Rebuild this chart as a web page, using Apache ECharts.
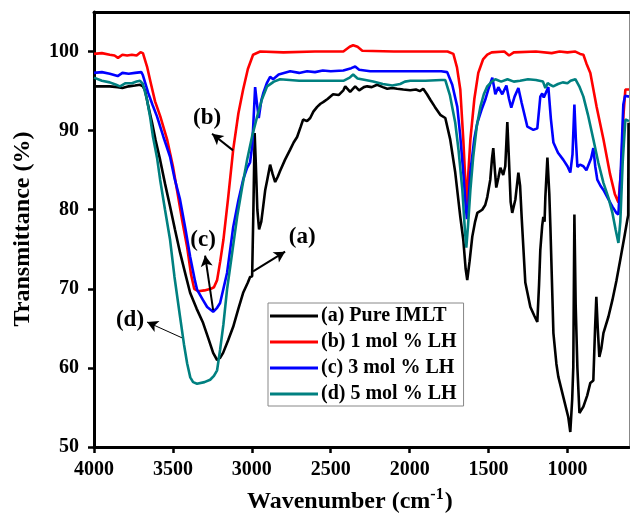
<!DOCTYPE html>
<html>
<head>
<meta charset="utf-8">
<script src="https://cdn.jsdelivr.net/npm/echarts@6/dist/echarts.min.js"></script>
<style>
  html, body { margin: 0; padding: 0; background: #fff; }
  #chart { width: 630px; height: 520px; }
</style>
</head>
<body>
<div id="chart"></div>
<script>
// FTIR spectra: transmittance (%) vs wavenumber (cm^-1)
const seriesNames = ['(a) Pure IMLT', '(b) 1 mol % LH', '(c) 3 mol % LH', '(d) 5 mol % LH'];
const seriesColors = ['#000000', '#ff0000', '#0000ff', '#008080'];

const xTicks = [4000, 3500, 3000, 2500, 2000, 1500, 1000];
const yTicks = [50, 60, 70, 80, 90, 100];

const pureIMLT = [
  [4000, 95.6], [3950, 95.6], [3900, 95.6], [3850, 95.5], [3820, 95.4], [3780, 95.6], [3740, 95.7],
  [3708, 95.8], [3690, 95.6], [3677, 95.1], [3655, 93.0], [3632, 91.0], [3610, 88.8], [3581, 86.3],
  [3550, 83.3], [3518, 80.4], [3487, 77.5], [3455, 74.6], [3420, 71.8], [3391, 69.5], [3350, 67.5],
  [3309, 65.7], [3275, 63.7], [3245, 61.9], [3220, 61.0], [3200, 61.3], [3182, 61.9], [3150, 63.5],
  [3118, 65.2], [3085, 67.5], [3055, 69.5], [3025, 70.8], [3011, 71.5], [2998, 71.6], [2990, 80.0],
  [2982, 89.7], [2975, 86.0], [2965, 80.0], [2954, 77.5], [2940, 78.5], [2928, 80.4], [2915, 82.5],
  [2903, 83.7], [2884, 85.7], [2868, 84.5], [2852, 83.5], [2835, 84.2], [2821, 84.9], [2790, 86.3],
  [2757, 87.6], [2735, 88.5], [2713, 89.2], [2690, 90.5], [2675, 91.4], [2650, 91.2], [2630, 91.6],
  [2610, 92.4], [2586, 93.0], [2565, 93.4], [2548, 93.6], [2520, 94.0], [2485, 94.6], [2450, 94.5],
  [2420, 95.1], [2408, 95.6], [2377, 94.9], [2345, 95.6], [2320, 95.1], [2290, 95.5], [2269, 95.6],
  [2240, 95.5], [2206, 95.8], [2170, 95.5], [2142, 95.3], [2110, 95.4], [2079, 95.3], [2040, 95.2],
  [1996, 95.1], [1960, 95.2], [1935, 95.0], [1914, 95.3], [1890, 94.6], [1869, 93.9], [1840, 93.0],
  [1806, 92.0], [1774, 91.6], [1743, 88.9], [1711, 84.7], [1679, 79.1], [1660, 76.2], [1645, 72.5],
  [1635, 71.1], [1620, 73.5], [1603, 76.6], [1585, 78.5], [1571, 79.6], [1540, 80.0], [1521, 80.6],
  [1508, 81.6], [1489, 83.8], [1478, 86.5], [1470, 87.8], [1460, 85.0], [1451, 82.8], [1438, 84.0],
  [1425, 85.3], [1407, 84.4], [1394, 85.5], [1387, 88.5], [1381, 91.1], [1370, 86.0], [1360, 81.0],
  [1350, 79.6], [1330, 81.3], [1311, 84.7], [1300, 83.0], [1290, 79.0], [1267, 70.8], [1235, 67.7],
  [1210, 66.6], [1191, 65.8], [1180, 70.5], [1172, 74.9], [1160, 78.0], [1153, 79.1], [1145, 78.5],
  [1140, 81.6], [1127, 86.6], [1115, 82.0], [1108, 77.8], [1089, 64.4], [1070, 60.5], [1058, 58.9],
  [1026, 56.3], [995, 53.8], [982, 51.9], [970, 56.0], [963, 60.1], [956, 79.4], [948, 68.0],
  [937, 60.0], [924, 54.3], [912, 54.2], [899, 55.1], [875, 56.5], [855, 58.1], [836, 58.4],
  [825, 65.0], [817, 69.0], [808, 65.0], [798, 61.4], [785, 62.5], [772, 64.4], [740, 66.5],
  [715, 68.6], [690, 71.0], [665, 73.7], [640, 76.5], [620, 78.8], [615, 79.3], [613, 91.0], [610, 91.0]
];

const lh1 = [
  [4000, 99.7], [3950, 99.8], [3900, 99.6], [3870, 99.5], [3848, 99.2], [3820, 99.6], [3790, 99.5],
  [3760, 99.6], [3730, 99.5], [3705, 99.9], [3690, 99.8], [3664, 98.1], [3640, 96.0], [3613, 93.7],
  [3580, 91.8], [3537, 88.9], [3500, 85.5], [3474, 82.5], [3440, 78.5], [3410, 75.3], [3385, 71.8],
  [3365, 70.0], [3340, 69.7], [3300, 69.8], [3260, 70.0], [3240, 70.2], [3220, 71.1], [3200, 73.5],
  [3180, 76.2], [3150, 81.5], [3118, 87.6], [3085, 92.2], [3055, 95.2], [3025, 97.8], [2992, 99.6],
  [2947, 100.0], [2800, 99.9], [2600, 100.0], [2420, 100.0], [2380, 100.6], [2358, 100.8], [2330, 100.6],
  [2300, 100.1], [2100, 100.0], [1900, 100.0], [1760, 100.0], [1723, 99.7], [1700, 98.0], [1679, 95.2],
  [1660, 88.9], [1648, 84.0], [1641, 80.4], [1630, 84.0], [1615, 88.9], [1590, 94.0], [1565, 97.3],
  [1535, 99.0], [1508, 99.6], [1480, 99.9], [1400, 100.0], [1370, 99.5], [1340, 99.9], [1200, 100.0],
  [1100, 99.8], [1050, 100.0], [1000, 99.9], [950, 100.0], [920, 99.7], [899, 99.6], [880, 98.5],
  [855, 97.3], [815, 93.0], [772, 88.9], [730, 84.5], [700, 82.0], [677, 80.9], [660, 85.0],
  [645, 92.0], [633, 95.2], [610, 95.2]
];

const lh3 = [
  [4000, 97.3], [3950, 97.4], [3900, 97.2], [3850, 96.9], [3820, 97.3], [3780, 97.2], [3740, 97.3],
  [3700, 97.4], [3690, 97.0], [3657, 94.8], [3630, 93.3], [3601, 91.8], [3560, 89.2], [3518, 86.7],
  [3490, 84.0], [3455, 81.3], [3420, 77.5], [3391, 74.1], [3360, 71.0], [3347, 69.9], [3310, 68.6],
  [3283, 67.7], [3245, 67.1], [3220, 67.6], [3201, 68.2], [3180, 70.0], [3157, 72.0], [3118, 77.8],
  [3085, 81.2], [3055, 83.8], [3030, 85.3], [3011, 86.0], [2998, 88.0], [2990, 91.0], [2979, 95.5],
  [2968, 93.5], [2956, 91.6], [2940, 93.8], [2928, 94.7], [2905, 96.0], [2884, 96.8], [2865, 96.5],
  [2830, 97.1], [2757, 97.5], [2700, 97.3], [2650, 97.5], [2600, 97.4], [2550, 97.6], [2500, 97.5],
  [2420, 97.6], [2370, 97.9], [2345, 98.1], [2320, 97.7], [2250, 97.5], [2100, 97.5], [1900, 97.5],
  [1800, 97.5], [1762, 97.4], [1730, 95.8], [1698, 93.0], [1680, 89.5], [1660, 84.7], [1645, 80.5],
  [1637, 78.8], [1628, 80.5], [1616, 84.7], [1590, 89.0], [1571, 91.0], [1545, 92.6], [1521, 93.9],
  [1500, 95.3], [1476, 96.7], [1465, 95.5], [1457, 94.6], [1438, 95.5], [1413, 94.6], [1387, 95.7],
  [1370, 94.0], [1356, 92.9], [1335, 94.3], [1311, 95.4], [1290, 93.5], [1254, 90.5], [1216, 90.1],
  [1191, 90.3], [1178, 93.0], [1172, 94.3], [1160, 94.7], [1150, 94.2], [1140, 94.1], [1121, 95.5],
  [1105, 91.5], [1089, 88.5], [1060, 87.2], [1026, 86.3], [1000, 85.5], [982, 84.7], [968, 87.0],
  [956, 93.3], [947, 89.0], [937, 85.4], [920, 85.7], [899, 85.5], [880, 85.0], [868, 85.2],
  [850, 86.5], [836, 87.8], [824, 85.5], [811, 83.8], [790, 83.0], [772, 82.5], [740, 81.3],
  [715, 80.4], [690, 79.6], [677, 79.4], [662, 85.0], [646, 93.3], [635, 94.4], [610, 94.3]
];

const lh5 = [
  [4000, 96.7], [3950, 96.3], [3900, 96.1], [3860, 95.8], [3835, 95.6], [3800, 96.0], [3760, 96.0],
  [3730, 96.2], [3708, 96.3], [3690, 95.9], [3664, 93.9], [3645, 91.8], [3626, 89.2], [3600, 86.5],
  [3581, 83.8], [3550, 80.0], [3518, 76.2], [3490, 71.5], [3455, 66.5], [3430, 63.0], [3410, 60.6],
  [3390, 58.8], [3372, 58.2], [3347, 58.0], [3300, 58.2], [3264, 58.5], [3240, 59.0], [3220, 59.7],
  [3201, 62.3], [3180, 65.5], [3157, 69.9], [3125, 74.5], [3093, 79.1], [3060, 83.0], [3030, 86.3],
  [2998, 89.3], [2966, 91.8], [2935, 94.0], [2903, 95.6], [2860, 96.2], [2821, 96.5], [2700, 96.3],
  [2600, 96.3], [2500, 96.3], [2420, 96.3], [2380, 96.7], [2358, 97.1], [2330, 96.6], [2280, 96.4],
  [2231, 96.2], [2170, 95.9], [2110, 95.7], [2060, 95.9], [2030, 96.2], [1996, 96.3], [1900, 96.3],
  [1800, 96.4], [1774, 96.4], [1745, 94.5], [1711, 91.0], [1690, 87.5], [1666, 82.5], [1650, 77.5],
  [1641, 75.2], [1630, 78.0], [1615, 82.5], [1597, 86.7], [1575, 90.5], [1552, 93.0], [1530, 94.6],
  [1508, 95.6], [1480, 96.2], [1457, 96.5], [1420, 96.2], [1380, 96.5], [1340, 96.2], [1300, 96.3],
  [1250, 96.5], [1200, 96.4], [1155, 96.2], [1140, 95.4], [1125, 96.0], [1110, 95.8], [1090, 95.6],
  [1060, 95.9], [1030, 96.1], [1000, 96.0], [980, 96.3], [950, 96.5], [925, 95.6], [899, 94.3],
  [870, 92.0], [836, 88.9], [805, 86.0], [772, 83.4], [740, 81.5], [715, 79.6], [695, 77.5],
  [677, 75.8], [665, 78.5], [650, 86.0], [633, 91.4], [610, 91.2]
];

// curve labels: text anchor and arrow (tail -> head), in data units
const curveLabels = [
  { text: '(a)', at: [2681, 76.5], from: [2992, 72.2], to: [2789, 74.7], width: 2 },
  { text: '(b)', at: [3283, 91.6], from: [3119, 87.5], to: [3252, 89.6], width: 2 },
  { text: '(c)', at: [3309, 76.2], from: [3245, 67.3], to: [3296, 74.2], width: 2 },
  { text: '(d)', at: [3772, 66.1], from: [3442, 63.8], to: [3664, 65.8], width: 1 }
];

const serif = '"Liberation Serif", "Times New Roman", serif';
const spectra = [pureIMLT, lh1, lh3, lh5];

const series = spectra.map((d, i) => ({
  name: seriesNames[i],
  type: 'line',
  data: d,
  showSymbol: false,
  symbol: 'none',
  smooth: false,
  animation: false,
  lineStyle: { color: seriesColors[i], width: 2.6 },
  itemStyle: { color: seriesColors[i] },
  z: 2 + i
}));

// annotation layer: arrows and curve tags
series.push({
  type: 'line',
  data: [],
  silent: true,
  animation: false,
  z: 10,
  markLine: {
    silent: true,
    animation: false,
    symbol: ['none', 'arrow'],
    symbolSize: [9, 11],
    label: { show: false },
    data: curveLabels.map(c => [
      { coord: c.from, lineStyle: { color: '#000', width: c.width, type: 'solid' } },
      { coord: c.to }
    ])
  },
  markPoint: {
    silent: true,
    animation: false,
    symbol: 'circle',
    symbolSize: 1,
    itemStyle: { color: 'rgba(0,0,0,0)' },
    label: {
      show: true,
      position: 'inside',
      formatter: p => p.name,
      fontFamily: serif,
      fontWeight: 'bold',
      fontSize: 23,
      color: '#000'
    },
    data: curveLabels.map(c => ({ name: c.text, coord: c.at }))
  }
});

const plainNumber = v => String(v);

const chart = echarts.init(document.getElementById('chart'), null, { renderer: 'canvas' });

chart.setOption({
  backgroundColor: '#ffffff',
  animation: false,
  grid: { left: 94, right: 1, top: 12, bottom: 73, containLabel: false },
  xAxis: [
    {
      type: 'value',
      inverse: true,
      min: 610,
      max: 4000,
      position: 'bottom',
      axisLine: { show: true, onZero: false, lineStyle: { color: '#000', width: 3 } },
      axisTick: { show: true, customValues: xTicks, length: 6, lineStyle: { color: '#000', width: 2.5 } },
      axisLabel: {
        show: true, customValues: xTicks, margin: 13, formatter: plainNumber,
        fontFamily: serif, fontWeight: 'bold', fontSize: 20, color: '#000'
      },
      splitLine: { show: false }
    },
    {
      type: 'value',
      inverse: true,
      min: 610,
      max: 4000,
      position: 'top',
      axisLine: { show: true, onZero: false, lineStyle: { color: '#000', width: 3 } },
      axisTick: { show: false },
      axisLabel: { show: false },
      splitLine: { show: false }
    }
  ],
  yAxis: [
    {
      type: 'value',
      min: 50,
      max: 105,
      position: 'left',
      axisLine: { show: true, onZero: false, lineStyle: { color: '#000', width: 3 } },
      axisTick: { show: true, customValues: yTicks, length: 6, lineStyle: { color: '#000', width: 2.5 } },
      axisLabel: {
        show: true, customValues: yTicks, margin: 15, formatter: plainNumber,
        fontFamily: serif, fontWeight: 'bold', fontSize: 20, color: '#000'
      },
      splitLine: { show: false }
    },
    {
      type: 'value',
      min: 50,
      max: 105,
      position: 'right',
      axisLine: { show: true, onZero: false, lineStyle: { color: '#888', width: 1 } },
      axisTick: { show: false },
      axisLabel: { show: false },
      splitLine: { show: false }
    }
  ],
  legend: {
    data: seriesNames,
    orient: 'vertical',
    left: 268,
    top: 303,
    padding: [3, 7, 2, 2],
    itemGap: 6,
    itemWidth: 48,
    itemHeight: 3,
    icon: 'rect',
    backgroundColor: '#ffffff',
    borderColor: '#888',
    borderWidth: 1,
    borderRadius: 0,
    selectedMode: false,
    textStyle: { fontFamily: serif, fontWeight: 'bold', fontSize: 20, lineHeight: 20, color: '#000', padding: [0, 0, 0, -2] }
  },
  graphic: [
    {
      type: 'text',
      left: 247,
      top: 487,
      style: {
        text: 'Wavenumber (cm{sup|-1}{p|)}',
        fontFamily: serif,
        fontWeight: 'bold',
        fontSize: 24,
        fill: '#000',
        rich: {
          sup: { fontFamily: serif, fontWeight: 'bold', fontSize: 16, verticalAlign: 'top', lineHeight: 30, padding: [0, 1, 12, 0] },
          p: { fontFamily: serif, fontWeight: 'bold', fontSize: 24 }
        }
      }
    },
    {
      type: 'text',
      x: 23,
      y: 229,
      rotation: Math.PI / 2,
      style: {
        text: 'Transmittance (%)',
        fontFamily: serif,
        fontWeight: 'bold',
        fontSize: 24,
        fill: '#000',
        align: 'center',
        verticalAlign: 'middle'
      }
    }
  ],
  series: series
});
</script>
</body>
</html>
